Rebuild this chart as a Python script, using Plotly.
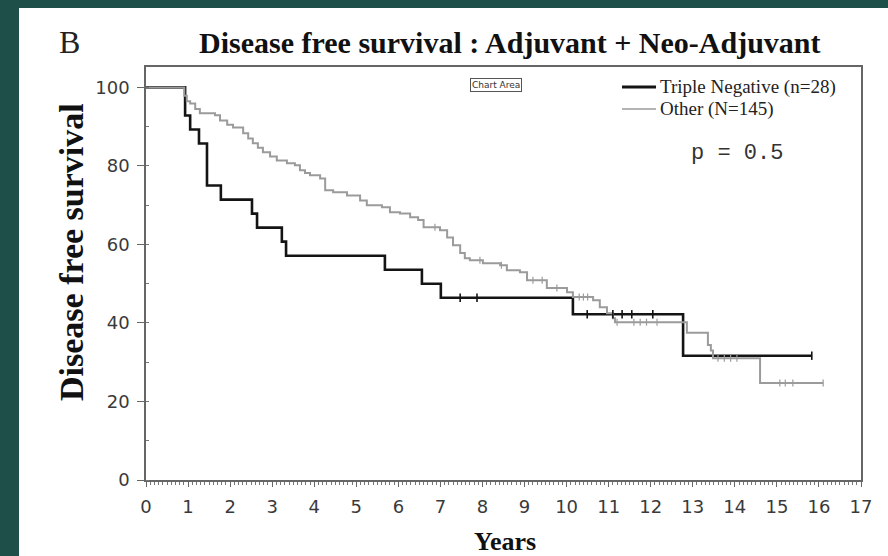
import numpy as np
import plotly.graph_objects as go

# ---------------- data ----------------
tn_name = "Triple Negative (n=28)"
tn_t = [0, 0.93, 1.05, 1.26, 1.45, 1.78, 2.52, 2.64, 3.23, 3.33, 5.68, 6.56, 7.01, 10.15, 12.77, 15.83]
tn_v = [100, 92.86, 89.29, 85.71, 75.0, 71.43, 67.86, 64.29, 60.71, 57.14, 53.57, 50.0, 46.43, 42.21, 31.66, 31.66]
tn_cens = [7.47, 7.87, 10.49, 11.10, 11.32, 11.55, 12.05, 15.83]

ot_name = "Other (N=145)"
ot_t = [0, 0.91, 0.97, 1.05, 1.17, 1.28, 1.64, 1.76, 1.93, 2.07, 2.31, 2.43, 2.54, 2.66, 2.78,
        2.95, 3.11, 3.35, 3.54, 3.66, 3.78, 3.90, 4.14, 4.26, 4.45, 4.78, 5.09, 5.25, 5.61,
        5.80, 6.04, 6.28, 6.47, 6.60, 6.99, 7.16, 7.30, 7.47, 7.58, 7.70, 8.01, 8.42, 8.58,
        8.89, 9.06, 9.53, 10.01, 10.15, 10.63, 10.79, 10.96, 11.10, 11.15, 12.86, 13.36,
        13.43, 13.48, 14.60, 16.10]
ot_v = [100, 97.9, 96.5, 95.9, 94.5, 93.4, 92.9, 91.6, 90.5, 89.8, 88.3, 87.0, 85.8, 84.6, 83.5,
        82.4, 81.4, 80.7, 80.2, 78.9, 78.2, 77.6, 76.8, 73.8, 73.3, 72.5, 71.2, 70.0, 69.5,
        68.2, 67.9, 66.9, 66.2, 64.4, 63.6, 61.8, 59.8, 57.8, 56.5, 56.0, 55.2, 54.7, 53.4,
        52.9, 50.9, 48.9, 47.8, 46.6, 45.8, 44.0, 42.5, 41.2, 40.2, 37.5, 34.4,
        33.0, 31.0, 24.7, 24.7]
ot_cens = [6.87, 7.94, 8.45, 9.20, 9.42, 9.77, 10.30, 10.40, 10.50, 11.20, 11.60, 11.75, 11.90,
           12.15, 13.60, 13.75, 13.90, 14.05, 15.07, 15.20, 15.38, 16.10]

x_ticks = list(range(0, 18))
y_ticks = [0, 20, 40, 60, 80, 100]

title_text = "Disease free survival : Adjuvant + Neo-Adjuvant"
panel_letter = "B"
y_title = "Disease free survival"
x_title = "Years"
p_text = "p = 0.5"

BLACK = "#141414"
GRAY = "#9b9b9b"
GREEN = "#1e4f48"


def step_at(ts, vs, t):
    idx = np.searchsorted(np.array(ts), np.array(t), side="right") - 1
    return list(np.array(vs)[idx])


fig = go.Figure()
fig.add_trace(go.Scatter(x=tn_t, y=tn_v, mode="lines", line=dict(shape="hv", color=BLACK, width=2.6),
                         name=tn_name, showlegend=False))
fig.add_trace(go.Scatter(x=ot_t, y=ot_v, mode="lines", line=dict(shape="hv", color=GRAY, width=2),
                         name=ot_name, showlegend=False))
fig.add_trace(go.Scatter(x=tn_cens, y=step_at(tn_t, tn_v, tn_cens), mode="markers",
                         marker=dict(symbol="line-ns", size=6, line=dict(width=1.6, color=BLACK)),
                         showlegend=False))
fig.add_trace(go.Scatter(x=ot_cens, y=step_at(ot_t, ot_v, ot_cens), mode="markers",
                         marker=dict(symbol="line-ns", size=5, line=dict(width=1.2, color=GRAY)),
                         showlegend=False))

# layout geometry (pixels)
L, R, T, B = 146, 861, 67, 480
W, H = 888, 556


def fx(px):
    return (px - L) / (R - L)


def fy(py):
    return (B - py) / (B - T)


shapes = [
    dict(type="rect", xref="paper", yref="paper", x0=fx(19), x1=fx(900), y0=fy(570), y1=fy(8),
         fillcolor="white", line=dict(width=0), layer="below"),
    # legend samples
    dict(type="line", xref="paper", yref="paper", x0=fx(622), x1=fx(656), y0=fy(87), y1=fy(87),
         line=dict(color=BLACK, width=3)),
    dict(type="line", xref="paper", yref="paper", x0=fx(622), x1=fx(656), y0=fy(109), y1=fy(109),
         line=dict(color=GRAY, width=1.6)),
]

annotations = [
    dict(x=fx(510), y=fy(42), text="<b>" + title_text + "</b>",
         font=dict(family="Liberation Serif", size=30, color="#111")),
    dict(x=fx(69), y=fy(42), text=panel_letter,
         font=dict(family="Liberation Serif", size=32, color="#222")),
    dict(x=fx(71), y=fy(252), text="<b>" + y_title + "</b>", textangle=-90,
         font=dict(family="Liberation Serif", size=34, color="#111")),
    dict(x=fx(505), y=fy(541), text="<b>" + x_title + "</b>",
         font=dict(family="Liberation Serif", size=26, color="#111")),
    dict(x=fx(737), y=fy(153), text=p_text,
         font=dict(family="Liberation Mono", size=22, color="#333")),
    dict(x=fx(496), y=fy(85), text="Chart Area", bordercolor="#555", borderwidth=1, borderpad=1,
         bgcolor="white", font=dict(family="DejaVu Sans", size=9, color="#333")),
]
for a in annotations:
    a.update(xanchor="center")
annotations += [
    dict(x=fx(658), y=fy(87), text=tn_name, xanchor="left",
         font=dict(family="Liberation Serif", size=19, color="#222")),
    dict(x=fx(658), y=fy(109), text=ot_name, xanchor="left",
         font=dict(family="Liberation Serif", size=19, color="#222")),
]
for a in annotations:
    a.update(xref="paper", yref="paper", showarrow=False, yanchor="middle")

fig.update_layout(
    width=W, height=H,
    margin=dict(l=L, r=W - R, t=T, b=H - B, pad=0),
    paper_bgcolor=GREEN, plot_bgcolor="white",
    annotations=annotations, shapes=shapes,
    showlegend=False,
    xaxis=dict(range=[0, 17], tickvals=x_ticks, ticktext=[str(v) for v in x_ticks],
               showgrid=False, zeroline=False, showline=True, linecolor="#666", linewidth=1.5,
               mirror=True, ticks="outside", ticklen=5, tickcolor="#666", tickwidth=1.2,
               ticklabelstandoff=5,
               tickfont=dict(family="DejaVu Sans", size=18, color="#3a3a3a"),
               minor=dict(dtick=0.1, tick0=0, ticks="outside", ticklen=3, tickcolor="#777", tickwidth=1)),
    yaxis=dict(range=[0, 105.2], tickvals=y_ticks, ticktext=[str(v) for v in y_ticks],
               showgrid=False, zeroline=False, showline=True, linecolor="#666", linewidth=1.5,
               mirror=True, ticks="outside", ticklen=7, tickcolor="#666", tickwidth=1.2,
               ticklabelstandoff=4,
               tickfont=dict(family="DejaVu Sans", size=18, color="#3a3a3a"),
               minor=dict(dtick=10, tick0=0, ticks="inside", ticklen=3, tickcolor="#777", tickwidth=1)),
)

fig.write_html("out.html")
